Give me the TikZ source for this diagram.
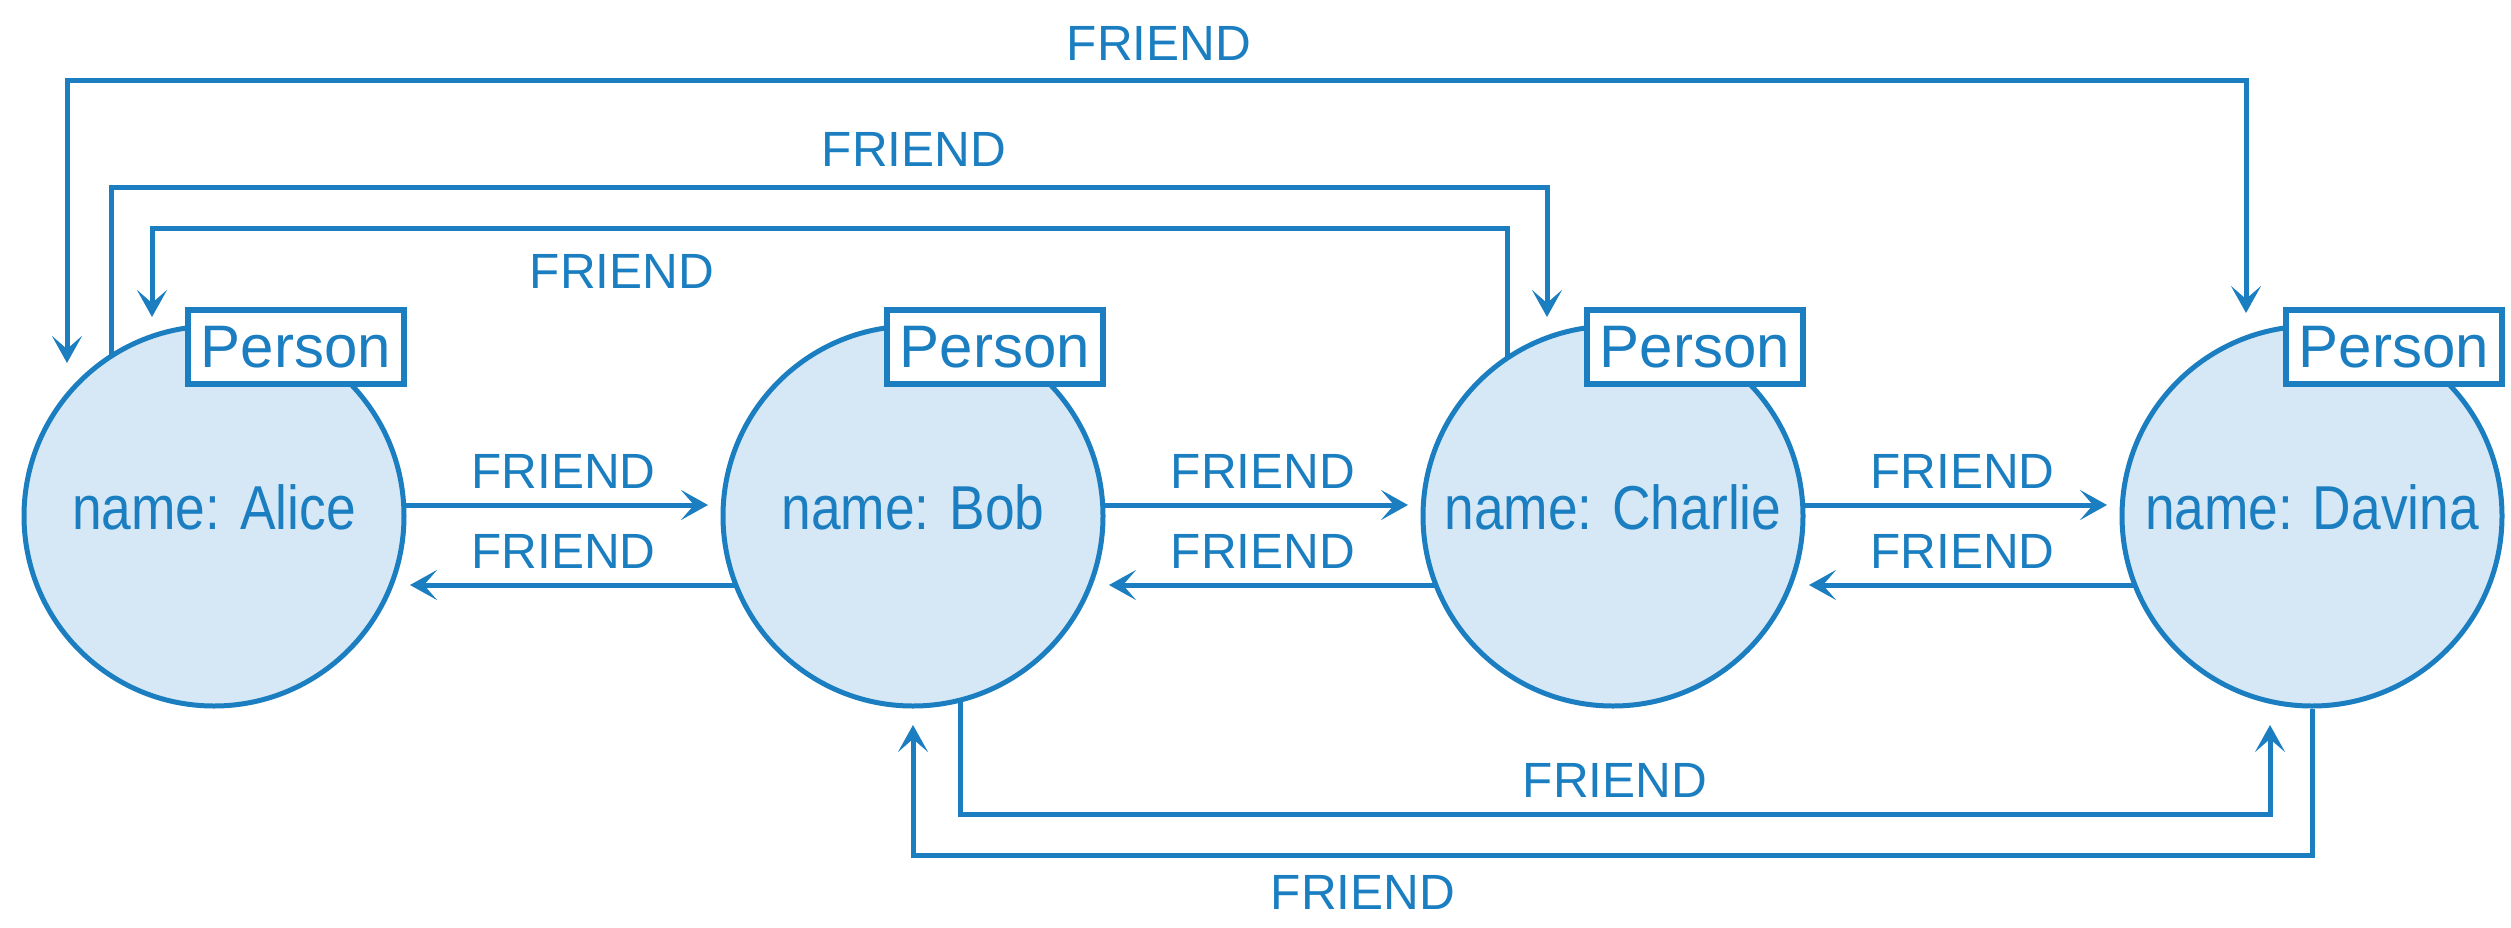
\documentclass[tikz,border=0pt]{standalone}
\usepackage{fontspec}
\setmainfont{Liberation Sans}
\usepackage{graphicx}
\usetikzlibrary{arrows.meta,calc}
\definecolor{nblue}{HTML}{1A7EC0}
\definecolor{nfill}{HTML}{D6E8F6}
\begin{document}
\begin{tikzpicture}[x=1pt,y=-1pt,
  person/.style={circle, draw=nblue, fill=nfill, line width=5pt, minimum size=380pt, inner sep=0pt},
  lbl/.style={draw=nblue, fill=white, line width=6pt, minimum width=216pt, minimum height=74pt, inner sep=0pt, text=nblue, font=\fontsize{60}{62}\selectfont},
  nametxt/.style={text=nblue, inner sep=0pt, anchor=base, font=\fontsize{62}{66}\selectfont},
  rel/.style={text=nblue, inner sep=0pt, font=\fontsize{49.5}{52}\selectfont},
  conn/.style={draw=nblue, line width=5pt},
  tip/.style={-{Stealth[length=27pt,width=30pt,inset=13pt]}},
  tips/.style={{Stealth[length=27pt,width=30pt,inset=13pt]}-{Stealth[length=27pt,width=30pt,inset=13pt]}}
]
\useasboundingbox (0,0) rectangle (2511,927);

% nodes
\node[person] (alice)  at (214,516) {};
\node[person] (bob)    at (913,516) {};
\node[person] (charlie) at (1613,516) {};
\node[person] (davina) at (2312,516) {};

\node[nametxt] (alicetxt)   at ($(alice.center)+(0,13)$)   {\scalebox{0.86}[1]{name: Alice}};
\node[nametxt] (bobtxt)     at ($(bob.center)+(0,13)$)     {\scalebox{0.86}[1]{name: Bob}};
\node[nametxt] (charlietxt) at ($(charlie.center)+(0,13)$) {\scalebox{0.86}[1]{name: Charlie}};
\node[nametxt] (davinatxt)  at ($(davina.center)+(0,13)$)  {\scalebox{0.86}[1]{name: Davina}};

\node[lbl] (alicelbl)   at ($(alice.center)+(82,-169)$)   {Person};
\node[lbl] (boblbl)     at ($(bob.center)+(82,-169)$)     {Person};
\node[lbl] (charlielbl) at ($(charlie.center)+(82,-169)$) {Person};
\node[lbl] (davinalbl)  at ($(davina.center)+(82,-169)$)  {Person};

% horizontal pairs
\draw[conn,tip] ($(alice.center)+(190,-11)$) -- ($(bob.center)+(-205,-11)$);
\draw[conn,tip] ($(bob.center)+(-178,69)$) -- ($(alice.center)+(196,69)$);
\node[rel,anchor=base] (l1) at ($(alice.center)!0.5!(bob.center)+(0,-28)$) {FRIEND};
\node[rel,anchor=base] (l2) at ($(alice.center)!0.5!(bob.center)+(0,52)$) {FRIEND};

\draw[conn,tip] ($(bob.center)+(190,-11)$) -- ($(charlie.center)+(-205,-11)$);
\draw[conn,tip] ($(charlie.center)+(-178,69)$) -- ($(bob.center)+(196,69)$);
\node[rel,anchor=base] (l3) at ($(bob.center)!0.5!(charlie.center)+(0,-28)$) {FRIEND};
\node[rel,anchor=base] (l4) at ($(bob.center)!0.5!(charlie.center)+(0,52)$) {FRIEND};

\draw[conn,tip] ($(charlie.center)+(190,-11)$) -- ($(davina.center)+(-205,-11)$);
\draw[conn,tip] ($(davina.center)+(-178,69)$) -- ($(charlie.center)+(196,69)$);
\node[rel,anchor=base] (l5) at ($(charlie.center)!0.5!(davina.center)+(0,-28)$) {FRIEND};
\node[rel,anchor=base] (l6) at ($(charlie.center)!0.5!(davina.center)+(0,52)$) {FRIEND};

% top connectors
\coordinate (a1) at ($(alice.center)+(-147,-153)$);
\coordinate (d1) at ($(davina.center)+(-66,-203)$);
\coordinate (lv1) at (0,80);
\draw[conn,tips] (a1) -- (a1 |- lv1) -- (d1 |- lv1) -- (d1);
\node[rel] (t1) at (1159,43) {FRIEND};

\coordinate (a2) at ($(alice.center)+(-103,-161)$);
\coordinate (c2) at ($(charlie.center)+(-66,-199)$);
\coordinate (lv2) at (0,187);
\draw[conn,tip] (a2) -- (a2 |- lv2) -- (c2 |- lv2) -- (c2);
\node[rel] (t2) at (914,149) {FRIEND};

\coordinate (c3) at ($(charlie.center)+(-106,-159)$);
\coordinate (a3) at ($(alice.center)+(-62,-199)$);
\coordinate (lv3) at (0,228);
\draw[conn,tip] (c3) -- (c3 |- lv3) -- (a3 |- lv3) -- (a3);
\node[rel] (t3) at (622,271) {FRIEND};

% bottom connectors
\coordinate (b4) at ($(bob.center)+(47,185)$);
\coordinate (d4) at ($(davina.center)+(-42,209)$);
\coordinate (lv4) at (0,814);
\draw[conn,tip] (b4) -- (b4 |- lv4) -- (d4 |- lv4) -- (d4);
\node[rel] (t4) at (1615,780) {FRIEND};

\coordinate (d5) at (davina.south);
\coordinate (b5) at ($(bob.center)+(0,209)$);
\coordinate (lv5) at (0,855);
\draw[conn,tip] (d5) -- (d5 |- lv5) -- (b5 |- lv5) -- (b5);
\node[rel] (t5) at (1363,892) {FRIEND};
\end{tikzpicture}
\end{document}
